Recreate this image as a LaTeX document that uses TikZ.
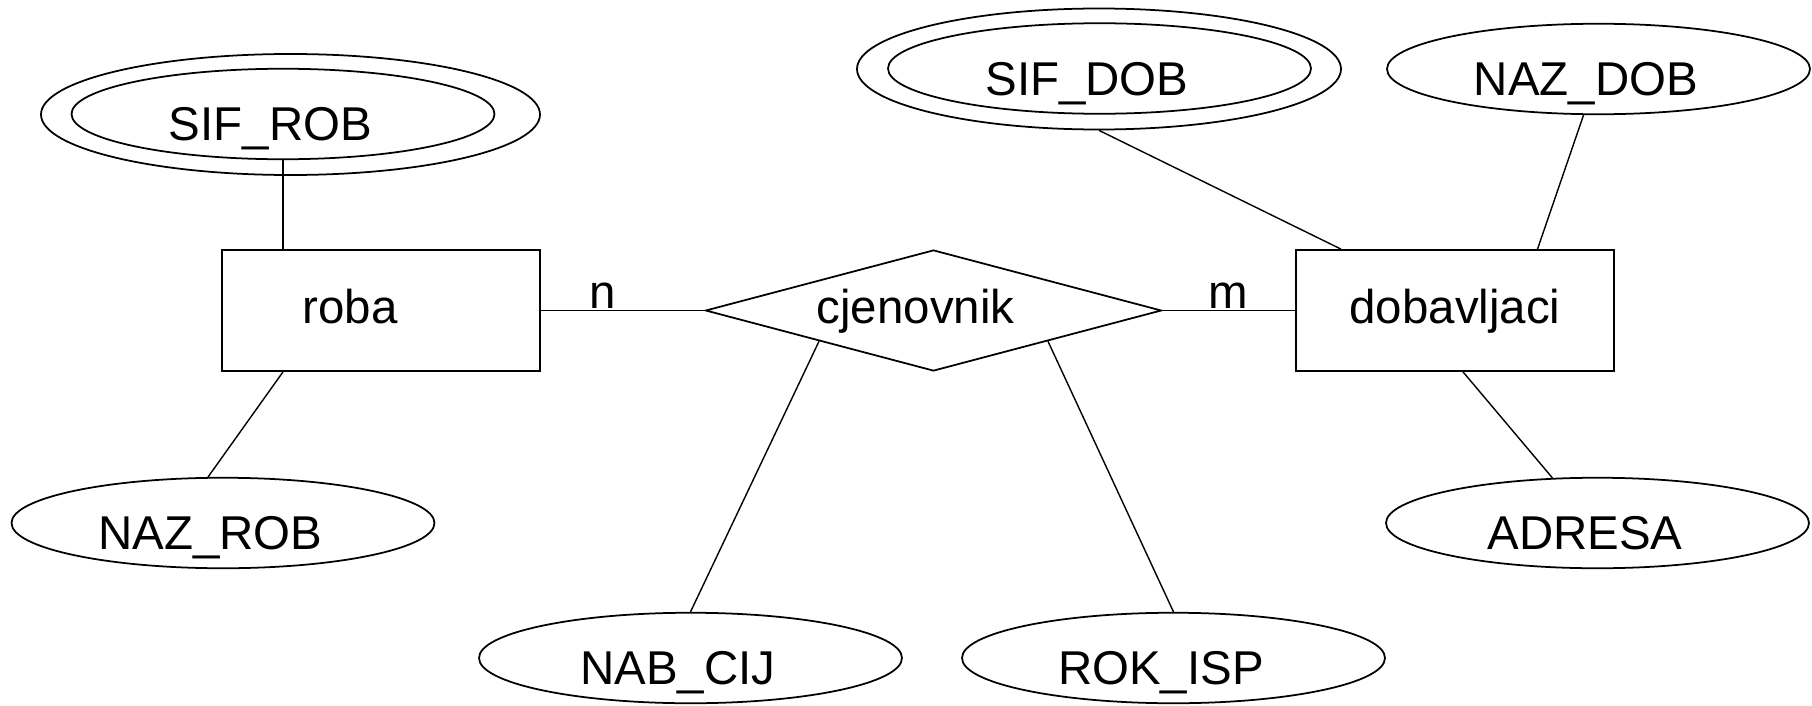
\documentclass[tikz,border=0pt]{standalone}
\usepackage{fontspec}
\setmainfont{Liberation Sans}
\usepackage{tikz}
\usetikzlibrary{shapes.geometric}
\tikzset{
  entity/.style={draw, line width=1pt, minimum width=6.36cm, minimum height=2.42cm, inner sep=0pt, text height=19.7pt, text depth=5.4pt},
  relation/.style={draw, diamond, aspect=3.77, line width=1pt, minimum width=9.12cm, minimum height=2.42cm, inner sep=0pt, text height=19.7pt, text depth=5.4pt, execute at begin node={\hspace*{-0.72cm}}},
  attrib/.style={draw, ellipse, line width=1pt, minimum width=8.46cm, minimum height=1.81cm, inner sep=0pt, text height=30.2pt, text depth=0pt, execute at begin node={\hspace*{-0.5cm}}},
  keyring/.style={draw, ellipse, line width=1pt, minimum height=2.42cm},
  link/.style={line width=0.8pt},
  card/.style={above, inner sep=1pt}
}

\begin{document}
\begin{tikzpicture}[font=\fontsize{27}{32}\selectfont]
      \useasboundingbox (0,0) rectangle (36.24,14.1);
      % entities and the relationship
      \node[entity, label={[xshift=-0.62cm, text height=19.7pt, text depth=5.4pt]center:roba}] (roba) at (7.62,7.89) {};
      \node[relation] (cjenovnik) at (18.67,7.89) {cjenovnik};
      \node[entity] (dobavljaci) at (29.10,7.89) {dobavljaci};
      % attributes
      \node[keyring, minimum width=9.98cm] (sifrob) at (5.81,11.81) {};
      \node[attrib] (sifrobkey) at (5.66,11.82) {SIF\_ROB};
      \node[attrib] (nazrob) at (4.46,3.64) {NAZ\_ROB};
      \node[keyring, minimum width=9.68cm] (sifdob) at (21.98,12.72) {};
      \node[attrib] (sifdobkey) at (21.99,12.73) {SIF\_DOB};
      \node[attrib] (nazdob) at (31.97,12.72) {NAZ\_DOB};
      \node[attrib] (adresa) at (31.95,3.64) {ADRESA};
      \node[attrib] (nabcij) at (13.81,0.94) {NAB\_CIJ};
      \node[attrib] (rokisp) at (23.47,0.94) {ROK\_ISP};
      % connectors
      \draw[link] (sifrobkey.south) -- (sifrobkey.south |- roba.north);
      \draw[link] ([xshift=-1.96cm]roba.south) -- (nazrob.108);
      \draw[link] (roba.east) -- node[card, pos=0.38] {n} (cjenovnik.west);
      \draw[link] (cjenovnik.east) -- node[card] {m} (dobavljaci.west);
      \draw[link] (sifdob.south) -- ([xshift=-2.28cm]dobavljaci.north);
      \draw[link] (nazdob.252) -- ([xshift=1.65cm]dobavljaci.north);
      \draw[link] ([xshift=0.16cm]dobavljaci.south) -- (adresa.135);
      \draw[link] (cjenovnik.south west) -- (nabcij.north);
      \draw[link] (cjenovnik.south east) -- (rokisp.north);
    \end{tikzpicture}
\end{document}
